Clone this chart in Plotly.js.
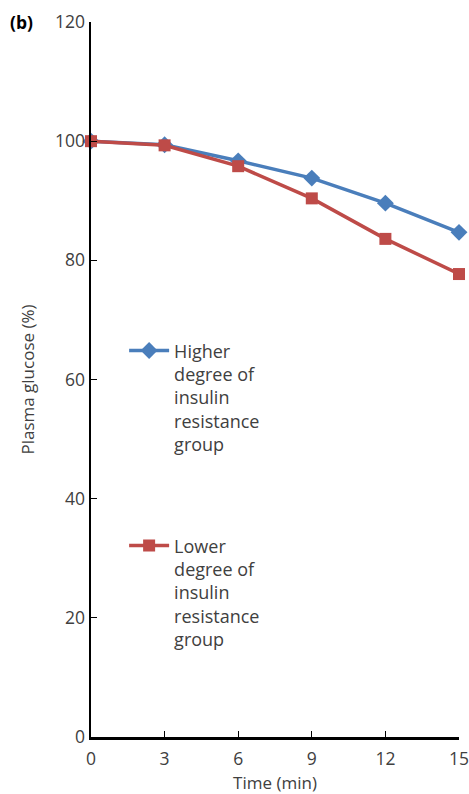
<!DOCTYPE html>
<html>
<head>
<script src="https://cdn.plot.ly/plotly-3.0.1.min.js"></script>
<style>html,body{margin:0;padding:0;background:#fff;}#chart{width:469px;height:794px;}</style>
</head>
<body>
<div id="chart"></div>
<script>
const timeMin = [0, 3, 6, 9, 12, 15];
const higherIR = [100, 99.4, 96.7, 93.8, 89.6, 84.7];
const lowerIR = [100, 99.3, 95.8, 90.4, 83.6, 77.7];
const seriesNames = ["Higher<br>degree of<br>insulin<br>resistance<br>group", "Lower<br>degree of<br>insulin<br>resistance<br>group"];
const xTicks = [0, 3, 6, 9, 12, 15];
const yTicks = [0, 20, 40, 60, 80, 100, 120];

const fontFam = "Open Sans, Segoe UI, sans-serif";
const traces = [
  {x: timeMin, y: higherIR, name: seriesNames[0], type: 'scatter', mode: 'lines+markers',
   legendgroup: 'a', cliponaxis: false,
   line: {color: '#4a7ebb', width: 3.5}, marker: {symbol: 'diamond', size: 13, color: '#4a7ebb'}},
  {x: timeMin, y: lowerIR, name: seriesNames[1], type: 'scatter', mode: 'lines+markers',
   legendgroup: 'b', cliponaxis: false,
   line: {color: '#be4b48', width: 3.5}, marker: {symbol: 'square', size: 12, color: '#be4b48'}}
];
const layout = {
  width: 469, height: 794,
  margin: {l: 91, r: 10, t: 22, b: 57},
  paper_bgcolor: '#fff', plot_bgcolor: '#fff',
  font: {family: fontFam, size: 17, color: '#404040'},
  showlegend: true,
  legend: {x: 0.09, y: 0.566, xanchor: 'left', yanchor: 'top', bgcolor: 'rgba(0,0,0,0)',
    tracegroupgap: 75, valign: 'top', font: {size: 18, color: '#404040'}, itemwidth: 40},
  xaxis: {range: [0, 15], tickvals: xTicks, ticktext: xTicks.map(String), ticks: 'inside', ticklen: 6,
    tickcolor: '#000', showline: true, linecolor: '#000', linewidth: 2.5, showgrid: false, zeroline: false,
    ticklabeloverflow: 'allow', ticklabelstandoff: 4,
    tickfont: {size: 17.5}, title: {text: 'Time (min)', standoff: 10, font: {size: 17}}, fixedrange: true},
  yaxis: {range: [0, 120], tickvals: yTicks, ticktext: yTicks.map(String), ticks: 'inside', ticklen: 6,
    tickcolor: '#000', showline: true, linecolor: '#000', linewidth: 2.5, showgrid: false, zeroline: false,
    tickfont: {size: 17.5}, title: {text: 'Plasma glucose (%)', standoff: 16, font: {size: 17}}, fixedrange: true},
  annotations: [{text: '<b>(b)</b>', xref: 'paper', yref: 'paper', x: -0.188, y: 1.0, xanchor: 'center', yanchor: 'middle',
    showarrow: false, font: {size: 17.5, color: '#000'}}]
};
Plotly.newPlot('chart', traces, layout, {displayModeBar: false, staticPlot: true});
</script>
</body>
</html>
